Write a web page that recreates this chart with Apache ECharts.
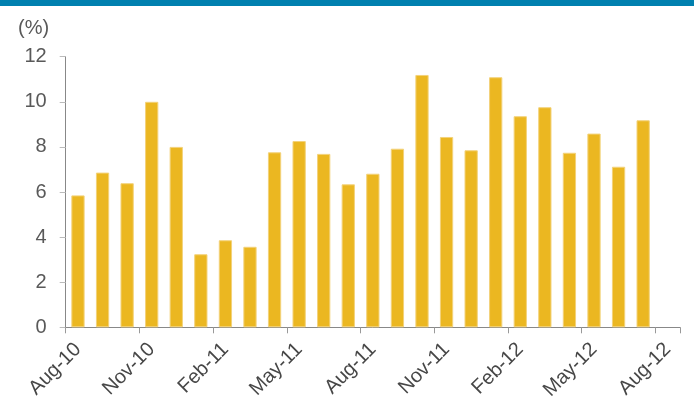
<!DOCTYPE html>
<html>
<head>
<meta charset="utf-8">
<script src="https://cdn.jsdelivr.net/npm/echarts@6/dist/echarts.min.js"></script>
<style>
html,body{margin:0;padding:0;background:#fff;}
#chart{width:694px;height:410px;}
</style>
</head>
<body>
<div id="chart"></div>
<script>
var categories = ['Aug-10','Sep-10','Oct-10','Nov-10','Dec-10','Jan-11','Feb-11','Mar-11','Apr-11','May-11','Jun-11','Jul-11',
  'Aug-11','Sep-11','Oct-11','Nov-11','Dec-11','Jan-12','Feb-12','Mar-12','Apr-12','May-12','Jun-12','Jul-12','Aug-12'];
var values = [5.85, 6.86, 6.39, 10.0, 8.0, 3.24, 3.86, 3.57, 7.76, 8.26, 7.69, 6.34,
  6.81, 7.92, 11.19, 8.44, 7.85, 11.09, 9.36, 9.76, 7.74, 8.59, 7.12, 9.18, null];
var yTicks = [0, 2, 4, 6, 8, 10, 12];
var unitLabel = '(%)';

var chart = echarts.init(document.getElementById('chart'));
chart.setOption({
  animation: false,
  backgroundColor: '#fff',
  graphic: [
    { type: 'rect', left: 0, top: 0, shape: { width: 694, height: 6 }, style: { fill: '#0080AF' } },
    { type: 'text', left: 18, top: 18, style: { text: unitLabel, fontSize: 20, fill: '#595959', fontFamily: 'Liberation Sans, Arial, sans-serif' } }
  ],
  grid: { left: 65.7, right: 14, top: 56.7, bottom: 82.7, containLabel: false },
  xAxis: {
    type: 'category',
    data: categories,
    boundaryGap: true,
    axisLine: { lineStyle: { color: '#888888', width: 1 } },
    axisTick: { show: true, interval: 2, length: 6, lineStyle: { color: '#999999' } },
    axisLabel: { interval: 2, rotate: 45, margin: 19, fontSize: 20, color: '#474747', fontFamily: 'Liberation Sans, Arial, sans-serif' }
  },
  yAxis: {
    type: 'value',
    min: yTicks[0],
    max: yTicks[yTicks.length - 1],
    interval: 2,
    axisLine: { show: true, lineStyle: { color: '#888888', width: 1 } },
    axisTick: { show: true, length: 6, lineStyle: { color: '#bbbbbb' } },
    splitLine: { show: false },
    axisLabel: { margin: 19, fontSize: 20, color: '#595959', fontFamily: 'Liberation Sans, Arial, sans-serif' }
  },
  series: [{
    type: 'bar',
    data: values,
    barWidth: '54%',
    itemStyle: { color: '#EBB721', borderColor: '#F3D27A', borderWidth: 1 }
  }]
});
</script>
</body>
</html>
